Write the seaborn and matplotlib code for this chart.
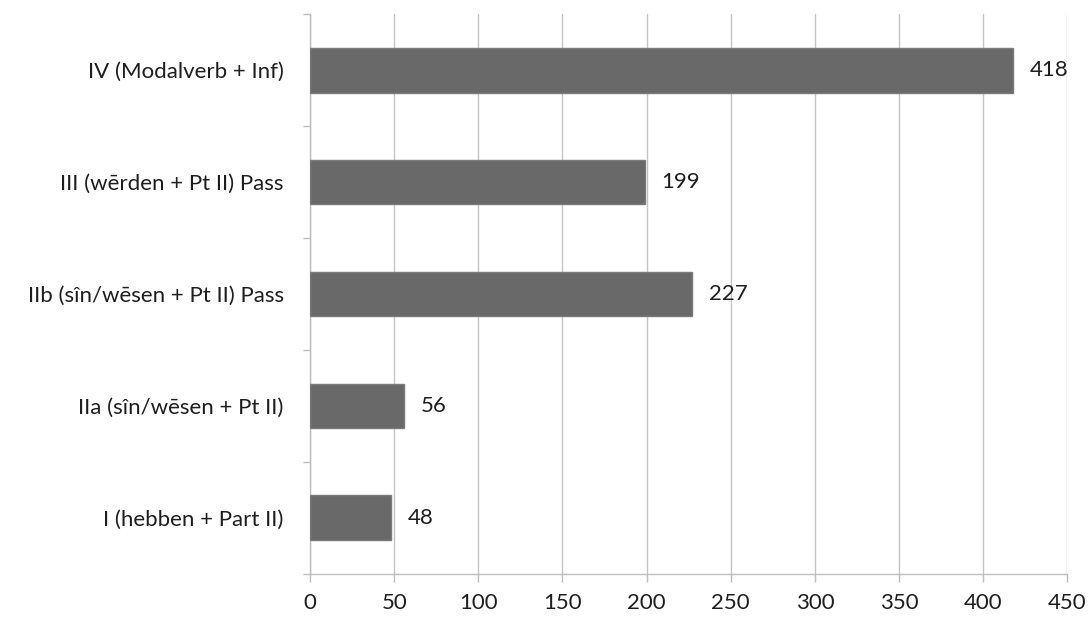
import matplotlib
matplotlib.use("Agg")
import matplotlib.pyplot as plt
import seaborn as sns
import pandas as pd
import numpy as np

categories = [
    "IV (Modalverb + Inf)",
    "III (wērden + Pt II) Pass",
    "IIb (sîn/wēsen + Pt II) Pass",
    "IIa (sîn/wēsen + Pt II)",
    "I (hebben + Part II)",
]
counts = [418, 199, 227, 56, 48]
x_ticks = [0, 50, 100, 150, 200, 250, 300, 350, 400, 450]

sns.set_theme(style="white")
plt.rcParams["font.family"] = ["Lato", "DejaVu Sans"]

df = pd.DataFrame({"category": categories, "count": counts})

fig = plt.figure(figsize=(10.88, 6.17), dpi=100)
ax = fig.add_axes([0.285, 0.070, 0.696, 0.907])

sns.barplot(data=df, x="count", y="category", order=categories, orient="h",
            color="#696969", edgecolor="#7a7a7a", linewidth=1, width=0.4,
            saturation=1, ax=ax, zorder=3)

ax.set_xlim(0, 450)
ax.set_ylim(len(categories) - 0.5, -0.5)
ax.set_xticks(x_ticks)
ax.set_xticklabels([str(t) for t in x_ticks], fontsize=16, color="#1e1e1e")
ax.set_yticklabels(categories, fontsize=16, color="#1e1e1e")
ax.set_xlabel("")
ax.set_ylabel("")

ax.grid(axis="x", color="#c4c4c4", linewidth=1, zorder=0)
ax.set_axisbelow(True)

for side in ["top", "right"]:
    ax.spines[side].set_visible(False)
for side in ["left", "bottom"]:
    ax.spines[side].set_color("#bdbdbd")
    ax.spines[side].set_linewidth(1)

ax.tick_params(axis="x", direction="out", length=6, width=1, color="#bdbdbd",
               bottom=True, pad=8)
ax.tick_params(axis="y", which="major", length=0, pad=19)
ax.set_yticks(np.arange(-0.5, len(categories), 1.0), minor=True)
ax.tick_params(axis="y", which="minor", direction="out", length=5, width=1,
               color="#bdbdbd", left=True)

for container in ax.containers:
    ax.bar_label(container, labels=[str(v) for v in counts], padding=12,
                 fontsize=16, color="#1e1e1e")

fig.savefig("out.png", dpi=100, facecolor="white")
